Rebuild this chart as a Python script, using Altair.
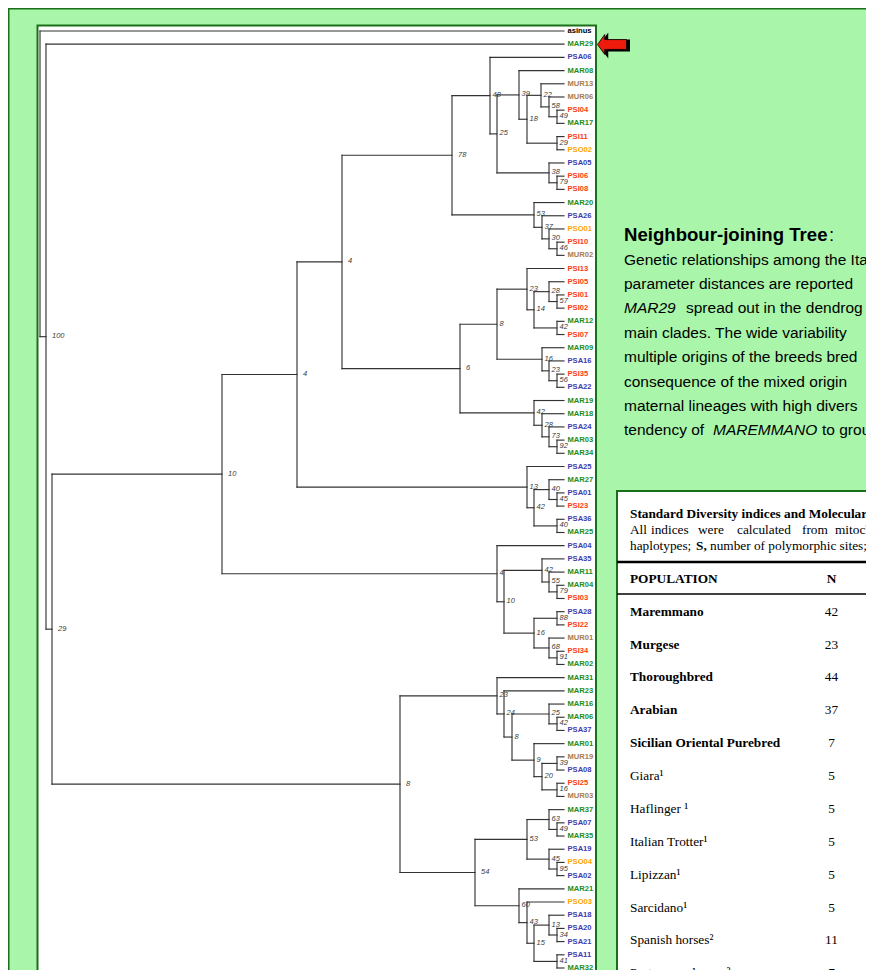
import altair as alt
import pandas as pd

# ---------------------------------------------------------------- data
leaf_names = [
    "asinus", "MAR29", "PSA06", "MAR08", "MUR13", "MUR06", "PSI04", "MAR17", "PSI11", "PSO02",
    "PSA05", "PSI06", "PSI08", "MAR20", "PSA26", "PSO01", "PSI10", "MUR02", "PSI13", "PSI05",
    "PSI01", "PSI02", "MAR12", "PSI07", "MAR09", "PSA16", "PSI35", "PSA22", "MAR19", "MAR18",
    "PSA24", "MAR03", "MAR34", "PSA25", "MAR27", "PSA01", "PSI23", "PSA36", "MAR25", "PSA04",
    "PSA35", "MAR11", "MAR04", "PSI03", "PSA28", "PSI22", "MUR01", "PSI34", "MAR02", "MAR31",
    "MAR23", "MAR16", "MAR06", "PSA37", "MAR01", "MUR19", "PSA08", "PSI25", "MUR03", "MAR37",
    "PSA07", "MAR35", "PSA19", "PSO04", "PSA02", "MAR21", "PSO03", "PSA18", "PSA20", "PSA21",
    "PSA11", "MAR32",
]
leaf_parent = [
    "root", "n100", "n48", "n39", "n22", "n58", "n49", "n49", "n29b", "n29b",
    "n38", "n79", "n79", "n53", "n37", "n30", "n46", "n46", "n23", "n28",
    "n57", "n57", "n42b", "n42b", "n16", "n23c", "n56", "n56", "n42", "n28b",
    "n73", "n92", "n92", "n13", "n40", "n45", "n45", "n40b", "n40b", "n4b",
    "n42d", "n55", "n79b", "n79b", "n88", "n88", "n68", "n91", "n91", "n23d",
    "n24", "n25b", "n42e", "n42e", "n9", "n39b", "n39b", "n16c", "n16c", "n63",
    "n49b", "n49b", "n45b", "n95", "n95", "n60", "n43", "n13b", "n34", "n34",
    "n41", "n41",
]

node_names = [
    "root", "n100", "n29", "n10", "n4l", "n4u", "n78", "n48", "n25", "n39",
    "n18", "n22", "n58", "n49", "n29b", "n38", "n79", "n53", "n37", "n30",
    "n46", "n6", "n8", "n23", "n14", "n28", "n57", "n42b", "n16", "n23c",
    "n56", "n42", "n28b", "n73", "n92", "n13", "n42c", "n40", "n45", "n40b",
    "n4b", "n10b", "n42d", "n55", "n79b", "n16b", "n88", "n68", "n91", "n8l",
    "n23d", "n24", "n8c", "n25b", "n42e", "n9", "n20", "n39b", "n16c", "n54",
    "n53b", "n63", "n49b", "n45b", "n95", "n60", "n43", "n15", "n13b", "n34",
    "n41",
]
node_parent = [
    "", "root", "n100", "n29", "n10", "n4l", "n4u", "n78", "n48", "n25",
    "n39", "n18", "n22", "n58", "n18", "n25", "n38", "n78", "n53", "n37",
    "n30", "n4u", "n6", "n8", "n23", "n14", "n28", "n14", "n8", "n16",
    "n23c", "n6", "n42", "n28b", "n73", "n4l", "n13", "n42c", "n40", "n42c",
    "n10", "n4b", "n10b", "n42d", "n55", "n10b", "n16b", "n16b", "n68", "n29",
    "n8l", "n23d", "n24", "n8c", "n25b", "n8c", "n9", "n20", "n20", "n8l",
    "n54", "n53b", "n63", "n53b", "n45b", "n54", "n60", "n43", "n15", "n13b",
    "n15",
]
# horizontal position of each internal node (distance from the root)
node_depth = [
    0, 6, 12, 182, 257, 302, 412, 450, 457, 479,
    487, 501, 509, 517, 517, 509, 517, 494, 502, 509,
    517, 420, 457, 487, 494, 509, 517, 517, 502, 509,
    517, 494, 502, 509, 517, 487, 494, 509, 517, 517,
    457, 464, 502, 509, 517, 494, 517, 509, 517, 360,
    457, 464, 472, 509, 517, 494, 502, 517, 517, 435,
    487, 509, 517, 509, 517, 479, 487, 494, 509, 517,
    517,
]
node_boot = [
    "", "100", "29", "10", "4", "4", "78", "48", "25", "39",
    "18", "22", "58", "49", "29", "38", "79", "53", "37", "30",
    "46", "6", "8", "23", "14", "28", "57", "42", "16", "23",
    "56", "42", "28", "73", "92", "13", "42", "40", "45", "40",
    "4", "10", "42", "55", "79", "16", "88", "68", "91", "8",
    "23", "24", "8", "25", "42", "9", "20", "39", "16", "54",
    "53", "63", "49", "45", "95", "60", "43", "15", "13", "34",
    "41",
]
tip_depth = 524

group_names = ["asinus", "MAR", "PSA", "PSI", "MUR", "PSO"]
group_colors = ["#000000", "#1e8c1e", "#3d3dad", "#ff3a14", "#a87c4e", "#ffa500"]

para_title = "Neighbour-joining Tree"
para_lines = [
    [("Genetic relationships among the Ita", False)],
    [("parameter distances are reported", False)],
    [("MAR29", True), ("spread out in the dendrog", False)],
    [("main clades. The wide variability", False)],
    [("multiple origins of the breeds bred", False)],
    [("consequence of the mixed origin", False)],
    [("maternal lineages with high divers", False)],
    [("tendency of", False), ("MAREMMANO", True), ("to grou", False)],
]

table_title = "Standard Diversity indices and Molecular i"
table_line2 = ["All", "indices", "were", "calculated", "from", "mitochon"]
table_line3 = [("haplotypes;", "normal"), ("S,", "bold"), ("number of polymorphic sites; p", "normal")]
table_head = ["POPULATION", "N", "H"]
table_pop = ["Maremmano", "Murgese", "Thoroughbred", "Arabian", "Sicilian Oriental Purebred",
             "Giara¹", "Haflinger ¹", "Italian Trotter¹", "Lipizzan¹", "Sarcidano¹",
             "Spanish horses²", "Portuguese horses²"]
table_n = ["42", "23", "44", "37", "7", "5", "5", "5", "5", "5", "11", "7"]
table_h = ["2", "", "2", "2", "4", "", "", "", "", "4", "1", ""]
table_bold = [True, True, True, True, True, False, False, False, False, False, False, False]

# ---------------------------------------------------------------- tree geometry
children = {n: [] for n in node_names}
for lf, p in zip(leaf_names, leaf_parent):
    children[p].append(("leaf", lf))
for n, p in zip(node_names, node_parent):
    if p:
        children[p].append(("node", n))
leaf_idx = {lf: i for i, lf in enumerate(leaf_names)}
depth = dict(zip(node_names, node_depth))
_ny = {}


def ypos(kind, name):
    if kind == "leaf":
        return leaf_idx[name]
    if name not in _ny:
        ys = [ypos(k, c) for k, c in children[name]]
        _ny[name] = (min(ys) + max(ys)) / 2
    return _ny[name]


segs = []
for lf, p in zip(leaf_names, leaf_parent):
    y = leaf_idx[lf]
    segs.append(dict(x=depth[p], x2=tip_depth, y=y, y2=y))
for n, p in zip(node_names, node_parent):
    y = ypos("node", n)
    if p:
        segs.append(dict(x=depth[p], x2=depth[n], y=y, y2=y))
    ys = [ypos(k, c) for k, c in children[n]]
    segs.append(dict(x=depth[n], x2=depth[n], y=min(ys), y2=max(ys)))
seg_df = pd.DataFrame(segs)

leaf_df = pd.DataFrame({
    "name": leaf_names,
    "y": [leaf_idx[lf] for lf in leaf_names],
    "x": [tip_depth] * len(leaf_names),
    "group": ["asinus" if lf == "asinus" else lf[:3] for lf in leaf_names],
})
boot_df = pd.DataFrame({
    "boot": node_boot,
    "x": node_depth,
    "y": [ypos("node", n) for n in node_names],
})
boot_df = boot_df[boot_df["boot"] != ""]
boot_deep = boot_df[boot_df["x"] < 445]      # long branches: label sits a bit further right
boot_tip = boot_df[boot_df["x"] >= 445]

# ---------------------------------------------------------------- layout helpers
OX, OY = 8, 8          # page margin
W, H = 858, 962        # whole page minus margins
SANS = "Liberation Sans"
SERIF = "Liberation Serif"
DKGREEN = "#1b6e1b"
one = pd.DataFrame({"k": [0]})

xs = alt.Scale(domain=[0, tip_depth], range=[40 - OX, 564 - OX])
ysc = alt.Scale(domain=[0, len(leaf_names) - 1], range=[31 - OY, 968 - OY])


def label(text, x, y, size, font=SANS, weight="normal", style="normal", align="left", color="#000000"):
    return alt.Chart(one).mark_text(
        text=text, align=align, baseline="middle", font=font, fontSize=size,
        fontWeight=weight, fontStyle=style, color=color,
    ).encode(x=alt.value(x - OX), y=alt.value(y - OY))


def box(x, y, x2, y2, fill, stroke, sw):
    return alt.Chart(one).mark_rect(fill=fill, stroke=stroke, strokeWidth=sw).encode(
        x=alt.value(x - OX), y=alt.value(y - OY), x2=alt.value(x2 - OX), y2=alt.value(y2 - OY))


def hline(x, x2, y, color, sw):
    return alt.Chart(one).mark_rule(color=color, strokeWidth=sw).encode(
        x=alt.value(x - OX), x2=alt.value(x2 - OX), y=alt.value(y - OY))


def boot_layer(df, dx):
    return alt.Chart(df).mark_text(
        align="left", baseline="middle", dx=dx, dy=-0.5, font=SANS, fontStyle="italic", fontSize=7.5,
        color="#3a3a3a").encode(
        x=alt.X("x:Q", scale=xs, axis=None), y=alt.Y("y:Q", scale=ysc, axis=None), text="boot:N")


layers = []
# backgrounds
layers.append(box(8.75, 8.75, 900, 1000, "#a9f5a9", DKGREEN, 1.5))
layers.append(box(37.5, 25.5, 596, 1000, "#ffffff", DKGREEN, 2))
layers.append(box(617, 491, 900, 1000, "#ffffff", DKGREEN, 2))

# tree
layers.append(alt.Chart(seg_df).mark_rule(color="#333333", strokeWidth=1.15, strokeCap="square").encode(
    x=alt.X("x:Q", scale=xs, axis=None), x2="x2:Q",
    y=alt.Y("y:Q", scale=ysc, axis=None), y2="y2:Q"))
layers.append(alt.Chart(leaf_df).mark_text(
    align="left", baseline="middle", dx=3.5, font=SANS, fontWeight="bold", fontSize=7.6).encode(
    x=alt.X("x:Q", scale=xs, axis=None), y=alt.Y("y:Q", scale=ysc, axis=None), text="name:N",
    color=alt.Color("group:N", scale=alt.Scale(domain=group_names, range=group_colors), legend=None)))
layers.append(boot_layer(boot_deep, 6))
layers.append(boot_layer(boot_tip, 2.5))

# arrow pointing at MAR29
arrow = "M -1 0 L -0.5 -0.69 L -0.5 -0.34 L 1 -0.34 L 1 0.34 L -0.5 0.34 L -0.5 0.69 Z"
layers.append(alt.Chart(one).mark_point(shape=arrow, size=841, filled=True, fill="#000000",
                                        stroke="#000000", opacity=1).encode(
    x=alt.value(614.5 - OX), y=alt.value(45.5 - OY)))
layers.append(alt.Chart(one).mark_point(shape=arrow, size=841, filled=True, fill="#ee1a0c",
                                        stroke="#000000", strokeWidth=0.8, opacity=1).encode(
    x=alt.value(612 - OX), y=alt.value(44.5 - OY)))

# paragraph
layers.append(label(para_title, 624, 235, 18.6, weight="bold"))
layers.append(label(":", 829, 235, 18.6))
para_x = [[624], [624], [624, 686], [624], [624], [624], [624], [624, 713, 822]]
for i, (segments, xpos) in enumerate(zip(para_lines, para_x)):
    for (txt, ital), x in zip(segments, xpos):
        layers.append(label(txt, x, 259.5 + i * 24.4, 15.5, style="italic" if ital else "normal"))

# table
layers.append(label(table_title, 630, 514, 13.3, font=SERIF, weight="bold"))
for w, x in zip(table_line2, [630, 651, 698, 737, 802, 835]):
    layers.append(label(w, x, 530, 13.3, font=SERIF))
for (w, wt), x in zip(table_line3, [630, 696, 710]):
    layers.append(label(w, x, 546, 13.3, font=SERIF, weight=wt))
layers.append(hline(617, 900, 562, "#000000", 2.5))
layers.append(label(table_head[0], 630, 579, 13.3, font=SERIF, weight="bold"))
layers.append(label(table_head[1], 831.5, 579, 13.3, font=SERIF, weight="bold", align="center"))
layers.append(label(table_head[2], 869, 579, 13.3, font=SERIF, weight="bold"))
layers.append(hline(617, 900, 594, "#000000", 1.5))
for i, (pop, n, h, b) in enumerate(zip(table_pop, table_n, table_h, table_bold)):
    yy = 611.7 + i * 32.87
    layers.append(label(pop, 630, yy, 13.3, font=SERIF, weight="bold" if b else "normal"))
    layers.append(label(n, 831.5, yy, 13.3, font=SERIF, align="center"))
    if h:
        layers.append(label(h, 869, yy, 13.3, font=SERIF))

chart = alt.layer(*layers).properties(
    width=W, height=H, autosize="none", padding=0, background="#ffffff"
).configure_view(stroke=None)

chart.save("out.html", embed_options={"renderer": "svg", "actions": False})
